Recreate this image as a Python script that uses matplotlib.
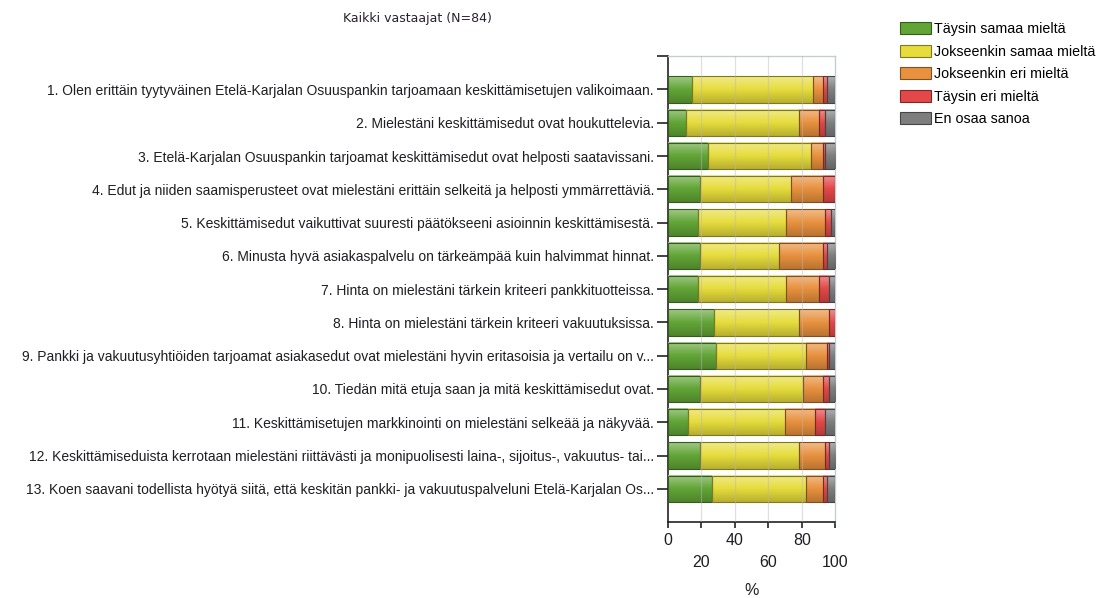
import numpy as np
import matplotlib
matplotlib.use("Agg")
import matplotlib.pyplot as plt
from matplotlib.colors import LinearSegmentedColormap, to_rgb
from matplotlib.patches import Patch
from matplotlib.transforms import blended_transform_factory

title = "Kaikki vastaajat (N=84)"

statements = [
    "1. Olen erittäin tyytyväinen Etelä-Karjalan Osuuspankin tarjoamaan keskittämisetujen valikoimaan.",
    "2. Mielestäni keskittämisedut ovat houkuttelevia.",
    "3. Etelä-Karjalan Osuuspankin tarjoamat keskittämisedut ovat helposti saatavissani.",
    "4. Edut ja niiden saamisperusteet ovat mielestäni erittäin selkeitä ja helposti ymmärrettäviä.",
    "5. Keskittämisedut vaikuttivat suuresti päätökseeni asioinnin keskittämisestä.",
    "6. Minusta hyvä asiakaspalvelu on tärkeämpää kuin halvimmat hinnat.",
    "7. Hinta on mielestäni tärkein kriteeri pankkituotteissa.",
    "8. Hinta on mielestäni tärkein kriteeri vakuutuksissa.",
    "9. Pankki ja vakuutusyhtiöiden tarjoamat asiakasedut ovat mielestäni hyvin eritasoisia ja vertailu on v...",
    "10. Tiedän mitä etuja saan ja mitä keskittämisedut ovat.",
    "11. Keskittämisetujen markkinointi on mielestäni selkeää ja näkyvää.",
    "12. Keskittämiseduista kerrotaan mielestäni riittävästi ja monipuolisesti laina-, sijoitus-, vakuutus- tai...",
    "13. Koen saavani todellista hyötyä siitä, että keskitän pankki- ja vakuutuspalveluni Etelä-Karjalan Os...",
]

answer_labels = [
    "Täysin samaa mieltä",
    "Jokseenkin samaa mieltä",
    "Jokseenkin eri mieltä",
    "Täysin eri mieltä",
    "En osaa sanoa",
]

# Shares of respondents (%) per statement
taysin_samaa   = [14.3, 10.7, 23.8, 19.0, 17.9, 19.0, 17.9, 27.4, 28.6, 19.0, 11.9, 19.0, 26.2]
jokseenkin_sam = [72.6, 67.9, 61.9, 54.8, 52.4, 47.6, 52.4, 51.2, 53.6, 61.9, 58.3, 59.5, 56.0]
jokseenkin_eri = [6.0, 11.9, 7.1, 19.0, 23.8, 26.2, 20.2, 17.9, 13.1, 11.9, 17.9, 15.5, 10.7]
taysin_eri     = [2.4, 3.6, 1.2, 7.1, 3.6, 2.4, 6.0, 3.6, 1.2, 3.6, 6.0, 2.4, 2.4]
en_osaa        = [4.8, 6.0, 6.0, 0.0, 2.4, 4.8, 3.6, 0.0, 3.6, 3.6, 6.0, 3.6, 4.8]

series = [taysin_samaa, jokseenkin_sam, jokseenkin_eri, taysin_eri, en_osaa]
colors = ["#62a536", "#e6dc3c", "#e8913e", "#e34848", "#7e7e7e"]

x_ticks = [0, 20, 40, 60, 80, 100]
x_label = "%"

sans = ["Liberation Sans", "DejaVu Sans"]
ink = "#1e1e24"


def shade(c, f):
    r = np.array(to_rgb(c))
    return tuple(np.clip(r * f, 0, 1))


def tint(c, f):
    r = np.array(to_rgb(c))
    return tuple(r + (1 - r) * f)


fig = plt.figure(figsize=(11.02, 5.98), dpi=100)
ax = fig.add_axes([0.606, 0.127, 0.152, 0.779])

ypos = np.arange(len(statements))
left = np.zeros(len(statements))
bar_h = 0.79
grad = np.linspace(0, 1, 64).reshape(-1, 1)

for vals, col in zip(series, colors):
    vals = np.asarray(vals)
    bars = ax.barh(ypos, vals, left=left, height=bar_h, facecolor="none",
                   edgecolor=shade(col, 0.55), linewidth=0.8, zorder=4)
    cmap = LinearSegmentedColormap.from_list("g", [tint(col, 0.4), col, shade(col, 0.8)])
    for p in bars.patches:
        w = p.get_width()
        if w <= 0:
            p.set_visible(False)
            continue
        x0, y0, h = p.get_x(), p.get_y(), p.get_height()
        ax.imshow(grad, cmap=cmap, aspect="auto", origin="upper",
                  extent=(x0, x0 + w, y0 + h, y0), interpolation="bilinear",
                  zorder=3)
    left += vals

ax.set_xlim(0, 100)
ax.set_ylim(len(statements), -1.0)

# light vertical grid
for gx in x_ticks[1:-1]:
    ax.axvline(gx, color="#b8b8b8", lw=0.9, alpha=0.45, zorder=5)

ax.set_yticks(ypos)
ax.set_yticklabels(statements, family=sans, fontsize=10, color=ink)
ax.set_yticks([-1.0], minor=True)
ax.tick_params(axis="y", which="both", length=8, width=1.2, pad=2, color="#222222")

ax.set_xticks(x_ticks)
ax.set_xticklabels([])
ax.tick_params(axis="x", length=4, width=1.2, color="#222222")

trans = blended_transform_factory(ax.transData, ax.transAxes)
for i, t in enumerate(x_ticks):
    dy = -0.040 if i % 2 == 0 else -0.087
    ax.text(t, dy, str(t), transform=trans, ha="center", va="center",
            family=sans, fontsize=11.5, color=ink)
ax.text(0.5, -0.148, x_label, transform=ax.transAxes, ha="center", va="center",
        family=sans, fontsize=11.5, color=ink)

for s in ("top", "right"):
    ax.spines[s].set_color("#c4ccd4")
    ax.spines[s].set_linewidth(1.0)
for s in ("left", "bottom"):
    ax.spines[s].set_color("#222222")
    ax.spines[s].set_linewidth(1.2)

fig.text(0.379, 0.969, title, ha="center", va="center", fontsize=9,
         family="DejaVu Sans", color="#2a2030")

handles = [Patch(facecolor=c, edgecolor=shade(c, 0.55), linewidth=0.8) for c in colors]
fig.legend(handles, answer_labels, loc="upper left", bbox_to_anchor=(0.814, 0.968),
           frameon=False, prop={"family": sans, "size": 10.3},
           handlelength=2.15, handleheight=0.9, handletextpad=0.2,
           labelspacing=0.6, borderaxespad=0.0, borderpad=0.2)

fig.savefig("out.png", dpi=100)
